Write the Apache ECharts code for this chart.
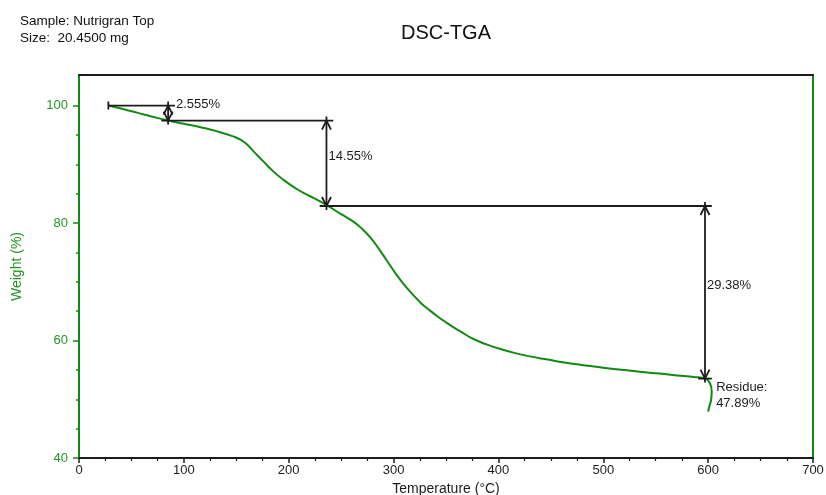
<!DOCTYPE html>
<html>
<head>
<meta charset="utf-8">
<script src="https://cdn.jsdelivr.net/npm/echarts@6/dist/echarts.min.js"></script>
<style>
  html, body { margin: 0; padding: 0; background: #fff; overflow: hidden; }
  #chart { width: 826px; height: 495px; }
</style>
</head>
<body>
<div id="chart"></div>
<script>
// TGA weight-loss curve (temperature in °C, weight in %)
const temperature = [28, 42, 56, 70, 85, 100, 116, 132, 147, 154, 160, 166.5, 176, 185.5, 195, 208, 216, 224, 236.6, 250, 262, 270, 278, 286, 294, 302, 310, 318, 326, 334, 342, 350, 358, 366, 374, 382, 390, 402, 415, 430, 447, 463, 479, 495, 510, 526, 542, 558, 574, 586, 597, 601.5, 603.4, 602.9, 601.2, 600];
const weight      = [100, 99.4, 98.75, 98.1, 97.45, 96.9, 96.3, 95.6, 94.75, 94.2, 93.4, 92.2, 90.45, 88.75, 87.35, 85.75, 84.95, 84.25, 83.0, 81.5, 80.2, 79.0, 77.5, 75.6, 73.5, 71.4, 69.5, 67.9, 66.4, 65.2, 64.1, 63.1, 62.15, 61.3, 60.45, 59.8, 59.25, 58.55, 57.9, 57.3, 56.75, 56.25, 55.85, 55.5, 55.15, 54.85, 54.55, 54.3, 54.0, 53.8, 53.55, 52.8, 51.4, 50.0, 48.8, 47.89];

// Weight-loss steps: measured temperatures and the levels between them
const startTemp = 28;
const stepTemps = [85, 236, 597];
const stepLevels = [100, 97.445, 82.895, 53.515];
const stepLabels = ['2.555%', '14.55%', '29.38%'];
const residue = 47.89;

// Axis ticks
const xTicks = [0, 100, 200, 300, 400, 500, 600, 700];
const yMajorTicks = [40, 60, 80, 100];
const yMinorTicks = [45, 50, 55, 65, 70, 75, 85, 90, 95];

const GREEN = '#118a11';
const GREEN_TEXT = '#259525';
const INK = '#1c1c1c';
const FONT = '"Liberation Sans", Arial, sans-serif';

const chart = echarts.init(document.getElementById('chart'), null, { renderer: 'canvas', width: 826, height: 495 });

// Arrowed dimension marks for each weight-loss step
function renderStep(params, api) {
  const i = api.value(0);
  const pad = 6.5;
  const top = stepLevels[i];
  const bot = stepLevels[i + 1];
  const t = stepTemps[i];
  const xStart = i === 0 ? startTemp : stepTemps[i - 1] - pad;
  const pA = api.coord([xStart, top]);
  const pB = api.coord([t + pad, top]);
  const pT = api.coord([t, top]);
  const pL = api.coord([t, bot]);
  const ls = { stroke: INK, lineWidth: 1.8, fill: null };
  const x = pT[0];
  const kids = [
    { type: 'line', shape: { x1: pA[0], y1: pA[1], x2: pB[0], y2: pB[1] }, style: ls },
    { type: 'line', shape: { x1: x, y1: pT[1] - 4, x2: x, y2: pL[1] + 4 }, style: ls },
    { type: 'polyline', shape: { points: [[x - 4.5, pT[1] + 9], [x, pT[1]], [x + 4.5, pT[1] + 9]] }, style: ls },
    { type: 'polyline', shape: { points: [[x - 4.5, pL[1] - 9], [x, pL[1]], [x + 4.5, pL[1] - 9]] }, style: ls }
  ];
  const short = (pL[1] - pT[1]) < 30;
  kids.push({
    type: 'text',
    style: {
      x: short ? pB[0] + 1 : x + 2,
      y: short ? pT[1] - 1 : (pT[1] + pL[1]) / 2 - 7,
      text: stepLabels[i],
      fill: INK,
      font: '13px ' + FONT,
      textAlign: 'left',
      textVerticalAlign: 'middle'
    }
  });
  if (i === 0) {
    kids.push({ type: 'line', shape: { x1: pA[0], y1: pA[1] - 4, x2: pA[0], y2: pA[1] + 4 }, style: ls });
  }
  if (i === stepTemps.length - 1) {
    const q1 = api.coord([t - pad, bot]);
    const q2 = api.coord([t + pad, bot]);
    kids.push({ type: 'line', shape: { x1: q1[0], y1: q1[1], x2: q2[0], y2: q2[1] }, style: ls });
  }
  return { type: 'group', children: kids };
}

const option = {
  animation: false,
  textStyle: { fontFamily: FONT },
  grid: { left: 79, right: 13, top: 75, bottom: 37, containLabel: false, outerBoundsMode: 'none' },
  graphic: [
    { type: 'text', style: { x: 446, y: 33, text: 'DSC-TGA', font: '20px ' + FONT, fill: '#111', textAlign: 'center', textVerticalAlign: 'middle' } },
    { type: 'text', style: { x: 20, y: 21, text: 'Sample: Nutrigran Top', font: '13.5px ' + FONT, fill: '#111', textAlign: 'left', textVerticalAlign: 'middle' } },
    { type: 'text', style: { x: 20, y: 38, text: 'Size:  20.4500 mg', font: '13.5px ' + FONT, fill: '#111', textAlign: 'left', textVerticalAlign: 'middle' } }
  ],
  xAxis: [
    {
      type: 'value', min: 0, max: 700, interval: 100, position: 'bottom',
      name: 'Temperature (°C)', nameLocation: 'middle', nameGap: 23,
      nameTextStyle: { color: INK, fontSize: 14 },
      axisLine: { show: true, lineStyle: { color: INK, width: 2 } },
      axisTick: { show: true, length: 5, lineStyle: { color: INK, width: 1.5 }, customValues: xTicks },
      minorTick: { show: true, splitNumber: 4, length: 3, lineStyle: { color: INK, width: 1.2 } },
      axisLabel: { color: INK, fontSize: 13, margin: 6, customValues: xTicks },
      splitLine: { show: false }, minorSplitLine: { show: false }
    },
    {
      type: 'value', min: 0, max: 700, position: 'top',
      axisLine: { show: true, lineStyle: { color: INK, width: 2 } },
      axisTick: { show: false }, axisLabel: { show: false }, splitLine: { show: false }
    }
  ],
  yAxis: [
    {
      type: 'value', min: 40, max: 105.2, position: 'left',
      name: 'Weight (%)', nameLocation: 'middle', nameGap: 55,
      nameTextStyle: { color: GREEN_TEXT, fontSize: 14 },
      axisLine: { show: true, lineStyle: { color: GREEN, width: 2 } },
      axisTick: { show: true, length: 6, lineStyle: { color: GREEN, width: 1.5 }, customValues: yMajorTicks },
      axisLabel: { color: GREEN_TEXT, fontSize: 13, margin: 11, customValues: yMajorTicks },
      splitLine: { show: false }
    },
    {
      type: 'value', min: 40, max: 105.2, position: 'left',
      axisLine: { show: false },
      axisTick: { show: true, length: 3, lineStyle: { color: GREEN, width: 1.5 }, customValues: yMinorTicks },
      axisLabel: { show: false }, splitLine: { show: false }
    },
    {
      type: 'value', min: 40, max: 105.2, position: 'right',
      axisLine: { show: true, lineStyle: { color: GREEN, width: 2 } },
      axisTick: { show: false }, axisLabel: { show: false }, splitLine: { show: false }
    }
  ],
  series: [
    {
      type: 'line',
      xAxisIndex: 0, yAxisIndex: 0,
      data: temperature.map((t, k) => [t, weight[k]]),
      showSymbol: false,
      smooth: 0.5,
      lineStyle: { color: GREEN, width: 2 },
      endLabel: {
        show: true,
        formatter: () => 'Residue:\n' + residue + '%',
        color: INK, fontSize: 13, lineHeight: 16,
        offset: [0, -16]
      },
      z: 3
    },
    {
      type: 'custom',
      xAxisIndex: 0, yAxisIndex: 0,
      renderItem: renderStep,
      data: stepTemps.map((_, i) => [i]),
      silent: true,
      clip: false,
      z: 4
    }
  ]
};

chart.setOption(option);
</script>
</body>
</html>
